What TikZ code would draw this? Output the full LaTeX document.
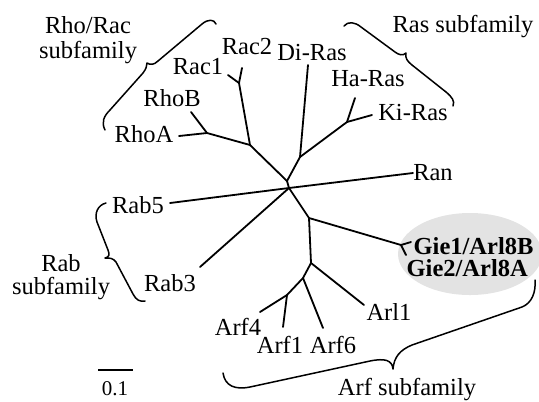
\documentclass[tikz,border=0pt]{standalone}
\usepackage{fontspec}
\setmainfont{Liberation Serif}
\usetikzlibrary{shapes.geometric}
\begin{document}
\begin{tikzpicture}[x=1bp,y=-1bp,
  branch/.style={line width=1.8bp, line cap=round, line join=round},
  bracepath/.style={line width=1.5bp, line cap=round, line join=round},
  lab/.style={inner sep=0pt, font=\fontsize{24.5bp}{25bp}\selectfont},
  ]
\useasboundingbox (0,0) rectangle (539,401);
% highlight
\node[ellipse, fill=black!11, inner sep=0pt, minimum width=144bp, minimum height=82bp] (gie) at (470,254) {};
% coordinates
\coordinate (C1) at (287,181);
\coordinate (C2) at (289,188);
\coordinate (R0) at (250,145);
\coordinate (Rc) at (239,83);
\coordinate (Rac2t) at (242,68);
\coordinate (Rac1t) at (228,75);
\coordinate (Rh) at (207,133);
\coordinate (RhoBt) at (191,112);
\coordinate (RhoAt) at (179,136);
\coordinate (S0) at (300,157);
\coordinate (DiRast) at (308,65);
\coordinate (S1) at (347,122);
\coordinate (HaRast) at (355,98);
\coordinate (KiRast) at (372,115);
\coordinate (Rab5t) at (170,203);
\coordinate (Rab3t) at (200,267);
\coordinate (Rant) at (413,173);
\coordinate (A0) at (309,218);
\coordinate (G0) at (401,245);
\coordinate (G1) at (411,242);
\coordinate (G2) at (406,255);
\coordinate (A1) at (311,263);
\coordinate (Arl1t) at (364,305);
\coordinate (A2) at (303,278);
\coordinate (Arf6t) at (323,328);
\coordinate (A3) at (287,295);
\coordinate (Arf1t) at (283,327);
\coordinate (Arf4t) at (260,312);
\coordinate (sb1) at (98,370);
\coordinate (sb2) at (133,370);
% tree
\draw[branch] (C1) -- (C2);
\draw[branch] (C1) -- (R0) -- (Rh) -- (RhoBt);
\draw[branch] (Rh) -- (RhoAt);
\draw[branch] (R0) -- (Rc) -- (Rac2t);
\draw[branch] (Rc) -- (Rac1t);
\draw[branch] (C1) -- (S0) -- (DiRast);
\draw[branch] (S0) -- (S1) -- (HaRast);
\draw[branch] (S1) -- (KiRast);
\draw[branch] (C2) -- (Rab5t);
\draw[branch] (C2) -- (Rab3t);
\draw[branch] (C2) -- (Rant);
\draw[branch] (C2) -- (A0) -- (G0) -- (G1);
\draw[branch] (G0) -- (G2);
\draw[branch] (A0) -- (A1) -- (Arl1t);
\draw[branch] (A1) -- (A2) -- (Arf6t);
\draw[branch] (A2) -- (A3) -- (Arf1t);
\draw[branch] (A3) -- (Arf4t);
\draw[branch, line cap=butt] (sb1) -- (sb2);
% braces
\draw[bracepath] (105,130) .. controls (101,122) and (104,116) .. (110,110) -- (143,73) .. controls (146,69) and (147,66) .. (147,63) .. controls (150,65) and (154,65) .. (158,61) -- (202,24) .. controls (208,19) and (214,19) .. (216,24);
\draw[bracepath] (344,26) .. controls (348,21) and (355,22) .. (361,27) -- (395,52) .. controls (399,55) and (403,56) .. (406,53) .. controls (405,58) and (407,61) .. (412,65) -- (446,92) .. controls (452,97) and (455,101) .. (453,106);
\draw[bracepath] (106,203) .. controls (98,205) and (94,213) .. (97,222) -- (108,250) .. controls (110,255) and (109,257) .. (105,258) .. controls (110,258) and (113,258) .. (116,262) -- (133,294) .. controls (136,300) and (140,302) .. (145,301);
\draw[bracepath] (223,373) .. controls (225,386) and (235,390) .. (250,387) -- (370,361) .. controls (385,358) and (392,360) .. (393,369) .. controls (394,357) and (400,350) .. (412,345) -- (522,307) .. controls (532,303) and (536,292) .. (535,280);
% labels
\node[lab, align=center, font=\fontsize{24.5bp}{25bp}\selectfont] (rhofam) at (88,40) {Rho/Rac\\subfamily};
\node[lab] (rac2) at (247,47) {Rac2};
\node[lab] (rac1) at (198,67) {Rac1};
\node[lab] (rhob) at (172,98) {RhoB};
\node[lab] (rhoa) at (144,134) {RhoA};
\node[lab] (diras) at (312,53) {Di-Ras};
\node[lab] (haras) at (368,79) {Ha-Ras};
\node[lab] (kiras) at (413,113) {Ki-Ras};
\node[lab] (rasfam) at (463,27) {Ras subfamily};
\node[lab] (ran) at (433,173) {Ran};
\node[lab] (rab5) at (138,205) {Rab5};
\node[lab] (rab3) at (170,283) {Rab3};
\node[lab, align=center, font=\fontsize{24.5bp}{23bp}\selectfont] (rabfam) at (61,277) {Rab\\subfamily};
\node[lab] (arf4) at (238,327) {Arf4};
\node[lab] (arf1) at (280,345) {Arf1};
\node[lab] (arf6) at (333,345) {Arf6};
\node[lab] (arl1) at (389,312) {Arl1};
\node[lab] (arffam) at (407,390) {Arf subfamily};
\node[lab, align=left, font=\fontsize{24.5bp}{22.5bp}\selectfont\bfseries] (gietext) at (470,257) {\hspace{7bp}Gie1/Arl8B\\Gie2/Arl8A};
\node[inner sep=0pt, font=\fontsize{21bp}{22bp}\selectfont] (scale) at (115,389) {0.1};
\end{tikzpicture}
\end{document}
